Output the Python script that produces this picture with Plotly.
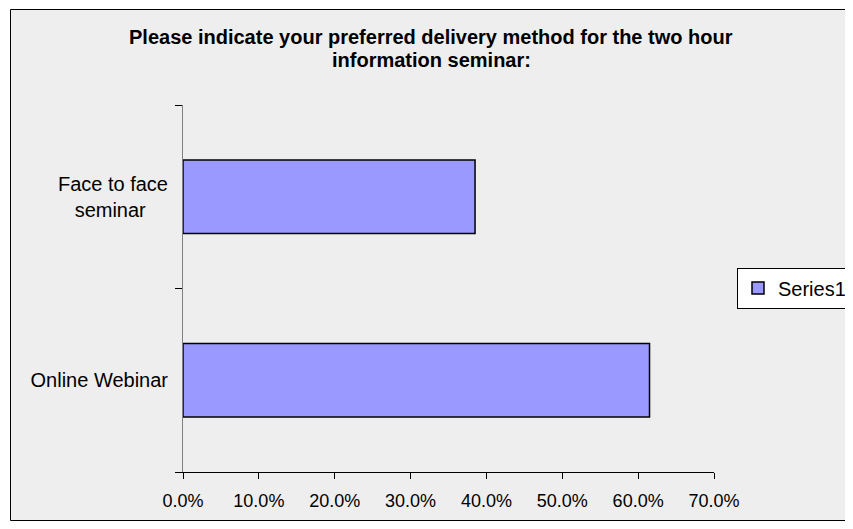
import plotly.graph_objects as go

categories = ["Online Webinar", "Face to face seminar"]
category_labels = ["Online Webinar", "Face to face<br>seminar\u00a0\u00a0\u00a0\u00a0"]
values = [0.615, 0.385]
series_name = "Series1"
title_lines = ["Please indicate your preferred delivery method for the two hour",
               "information seminar:"]

# page offset of the plotly div (default body margin)
OFF = 8
W, H = 853, 529
# plot area in page pixels: x 183..714, y 105..472
PX0, PX1, PY0, PY1 = 183, 714, 105, 472
L = PX0 - OFF
T = PY0 - OFF
R = W - (PX1 - OFF)
B = H - (PY1 - OFF)
pw, ph = PX1 - PX0, PY1 - PY0

def px_x(x):
    return (x - PX0) / pw

def px_y(y):
    return (PY1 - y) / ph

font_family = "Liberation Sans, Arial, sans-serif"

fig = go.Figure()
fig.add_trace(go.Bar(
    x=values, y=categories, orientation="h", name=series_name,
    width=0.4,
    marker=dict(color="#9999FF", line=dict(color="#000000", width=1.5)),
    showlegend=True,
))

fig.update_layout(
    width=W, height=H,
    margin=dict(l=L, r=R, t=T, b=B, pad=0, autoexpand=False),
    paper_bgcolor="#FFFFFF", plot_bgcolor="#EEEEEE",
    font=dict(family=font_family, size=18, color="#000000"),
    showlegend=True,
    legend=dict(
        x=px_x(737), xanchor="left", y=px_y(288), yanchor="middle",
        bgcolor="#FFFFFF", bordercolor="#000000", borderwidth=1,
        font=dict(family=font_family, size=20, color="#000000"),
        itemwidth=30,
    ),
)

fig.update_xaxes(
    range=[0, 0.7], dtick=0.1, tick0=0, tickformat=".1%",
    showgrid=False, zeroline=False,
    showline=True, linecolor="#000000", linewidth=1,
    ticks="outside", ticklen=6, tickcolor="#000000", tickwidth=1,
    ticklabelstandoff=6,
    tickfont=dict(family=font_family, size=18, color="#000000"),
)
fig.update_yaxes(
    type="category", categoryorder="array", categoryarray=categories,
    tickvals=categories, ticktext=category_labels,
    range=[-0.5, 1.5],
    tickson="boundaries",
    showgrid=False, zeroline=False,
    showline=True, linecolor="#808080", linewidth=1,
    ticks="outside", ticklen=7, tickcolor="#000000", tickwidth=1,
    ticklabelstandoff=10,
    tickfont=dict(family=font_family, size=20, color="#000000"),
)

# chart area background + border
fig.add_shape(type="rect", xref="paper", yref="paper",
              x0=px_x(10.5), x1=px_x(880), y0=px_y(520.5), y1=px_y(9.5),
              line=dict(color="#000000", width=1), fillcolor="#EEEEEE",
              layer="below")

for txt, yc in zip(title_lines, [37, 60]):
    fig.add_annotation(text="<b>" + txt + "</b>", xref="paper", yref="paper",
                       x=px_x(431), y=px_y(yc), xanchor="center", yanchor="middle",
                       showarrow=False,
                       font=dict(family=font_family, size=20, color="#000000"))

fig.write_html("out.html")
